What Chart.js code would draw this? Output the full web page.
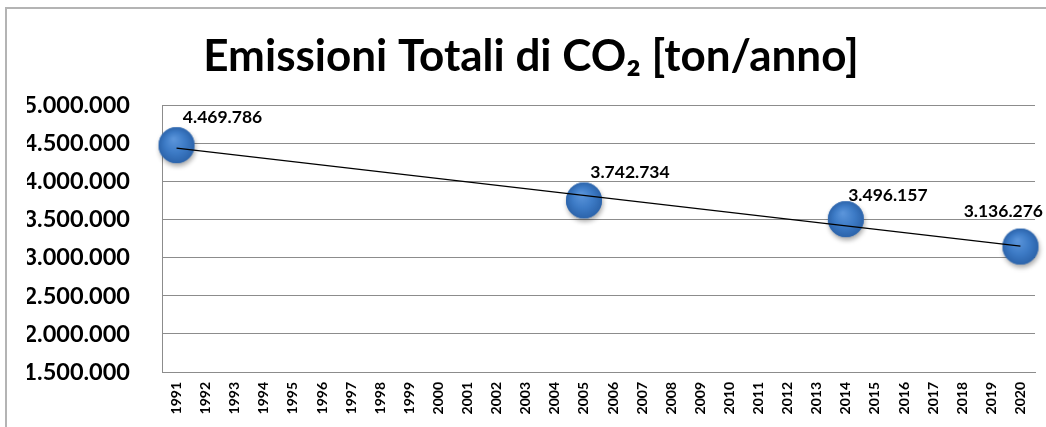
<!DOCTYPE html>
<html><head><meta charset="utf-8">
<script src="https://cdn.jsdelivr.net/npm/chart.js@4/dist/chart.umd.min.js"></script>
<style>
html,body{margin:0;padding:0;background:#fff;overflow:hidden}
#frame{position:absolute;left:5px;top:7px;width:1200px;height:600px;border-left:2px solid #b4b4b4;border-top:2px solid #b4b4b4}
#c{position:absolute;left:0;top:0}
</style></head>
<body>
<div id="frame"></div>
<canvas id="c" width="1046" height="427"></canvas>
<script>
// ---- data ----
const years = ['1991','1992','1993','1994','1995','1996','1997','1998','1999','2000','2001','2002','2003','2004','2005','2006','2007','2008','2009','2010','2011','2012','2013','2014','2015','2016','2017','2018','2019','2020'];
const measuredYears = ['1991','2005','2014','2020'];
const emissions = [4469786, 3742734, 3496157, 3136276];
const yTicks = [1500000, 2000000, 2500000, 3000000, 3500000, 4000000, 4500000, 5000000];
const titleText = 'Emissioni Totali di CO₂ [ton/anno]';

function fmt(v){ return String(Math.round(v)).replace(/\B(?=(\d{3})+(?!\d))/g, '.'); }

// linear trendline (least squares over year index, as in the spreadsheet trendline)
const xs = measuredYears.map(y => years.indexOf(y));
const mx = xs.reduce((a,b)=>a+b,0)/xs.length;
const my = emissions.reduce((a,b)=>a+b,0)/emissions.length;
let sxy=0, sxx=0;
xs.forEach((x,i)=>{ sxy += (x-mx)*(emissions[i]-my); sxx += (x-mx)*(x-mx); });
const slope = sxy/sxx, icpt = my - slope*mx;
const trendPts = [
  {x: years[0], y: icpt},
  {x: years[years.length-1], y: icpt + slope*(years.length-1)}
];

// sphere marker
function sphere(){
  const s = 50, c = document.createElement('canvas');
  c.width = s; c.height = s;
  const g = c.getContext('2d');
  const cx = s/2, cy = s/2 - 1, r = 18;
  g.save();
  g.shadowColor = 'rgba(0,0,0,0.35)'; g.shadowBlur = 5; g.shadowOffsetY = 3; g.shadowOffsetX = 1;
  g.beginPath(); g.arc(cx, cy, r, 0, Math.PI*2); g.fillStyle = '#3a74bd'; g.fill();
  g.restore();
  const grad = g.createRadialGradient(cx-3, cy-6, 1, cx, cy, r);
  grad.addColorStop(0, '#5a94da');
  grad.addColorStop(0.55, '#3d7bc6');
  grad.addColorStop(1, '#2c64ab');
  g.beginPath(); g.arc(cx, cy, r, 0, Math.PI*2); g.fillStyle = grad; g.fill();
  return c;
}

const labelPlugin = {
  id: 'ptLabels',
  afterDatasetsDraw(chart){
    const meta = chart.getDatasetMeta(1);
    const ctx = chart.ctx;
    ctx.save();
    ctx.font = 'bold 17.5px Lato';
    ctx.fillStyle = '#000';
    ctx.textAlign = 'center';
    ctx.textBaseline = 'middle';
    meta.data.forEach((el, i) => {
      const t = fmt(emissions[i]);
      const w = ctx.measureText(t).width;
      let cx = el.x + 46;
      if (cx + w/2 > chart.width - 3) cx = chart.width - 3 - w/2;
      let cy = el.y - 29;
      if (i === meta.data.length - 1) cy = el.y - 36;
      if (i === 2) { cx = el.x + 42; cy = el.y - 25; }
      ctx.fillText(t, cx, cy);
    });
    ctx.restore();
  }
};

new Chart(document.getElementById('c'), {
  type: 'line',
  data: {
    labels: years,
    datasets: [
      { label: 'Trend', data: trendPts, borderColor: '#000', borderWidth: 1.3, pointRadius: 0, fill: false, order: 0, tension: 0 },
      { label: 'Emissioni', data: measuredYears.map((y,i)=>({x:y, y:emissions[i]})), showLine: false,
        pointStyle: sphere(), pointRadius: 18, order: 1, clip: false }
    ]
  },
  options: {
    responsive: false,
    animation: false,
    events: [],
    layout: { autoPadding: false, padding: { top: 0, right: 11, left: 27, bottom: 0 } },
    plugins: {
      legend: { display: false },
      tooltip: { enabled: false },
      title: {
        display: true, text: titleText, color: '#000',
        font: { family: 'Lato', size: 44, weight: 'bold', lineHeight: 1.2 },
        padding: { top: 30, bottom: 23 }
      }
    },
    scales: {
      x: {
        type: 'category', offset: true,
        grid: { display: false, drawTicks: false },
        border: { display: true, color: '#8c8c8c', width: 1 },
        ticks: { autoSkip: false, maxRotation: 90, minRotation: 90, color: '#000', padding: 10,
          font: { family: 'Lato', size: 14, weight: 'bold' } },
        afterFit(s){ s.height = 55; s.paddingRight = 0; s.paddingLeft = 0; }
      },
      y: {
        min: 1500000, max: 5000000,
        afterBuildTicks(s){ s.ticks = yTicks.map(v => ({value: v})); },
        grid: { color: '#8c8c8c', lineWidth: 1, drawTicks: false },
        border: { display: true, color: '#8c8c8c', width: 1 },
        ticks: { color: '#000', padding: 32, callback: v => fmt(v),
          font: { family: 'Lato', size: 23.5, weight: 'bold' } },
        afterFit(s){ s.width = 135; }
      }
    }
  },
  plugins: [labelPlugin]
});
</script>
</body></html>
